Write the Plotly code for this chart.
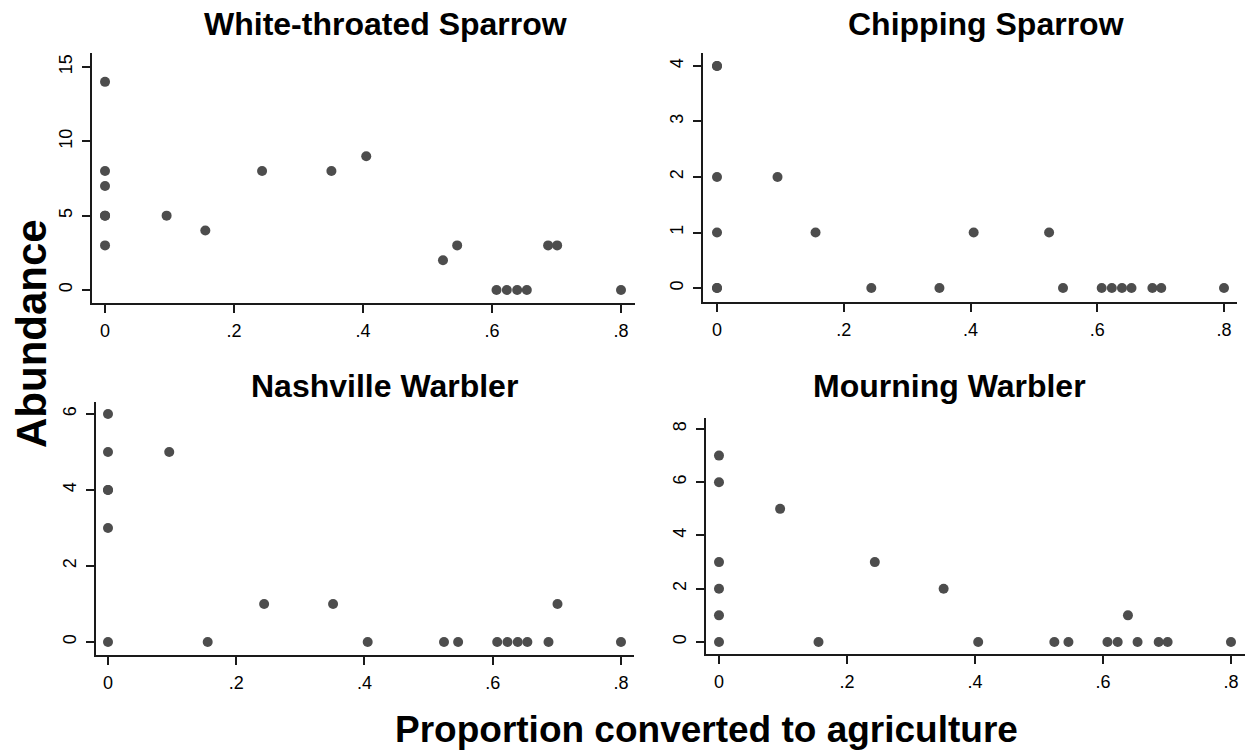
import plotly.graph_objects as go

# ---- data ----
proportion = [0, 0, 0, 0, 0, 0, 0.0955, 0.1555, 0.2435, 0.351, 0.405, 0.524,
              0.546, 0.607, 0.623, 0.639, 0.654, 0.687, 0.701, 0.8]
white_throated = [14, 8, 7, 5, 5, 3, 5, 4, 8, 8, 9, 2, 3, 0, 0, 0, 0, 3, 3, 0]
chipping = [4, 4, 2, 1, 0, 0, 2, 1, 0, 0, 1, 1, 0, 0, 0, 0, 0, 0, 0, 0]
nashville = [6, 5, 4, 4, 3, 0, 5, 0, 1, 1, 0, 0, 0, 0, 0, 0, 0, 0, 1, 0]
mourning = [7, 6, 3, 2, 1, 0, 5, 0, 3, 2, 0, 0, 0, 0, 0, 1, 0, 0, 0, 0]

species = ["White-throated Sparrow", "Chipping Sparrow", "Nashville Warbler", "Mourning Warbler"]
series = [white_throated, chipping, nashville, mourning]
x_ticks = [0, 0.2, 0.4, 0.6, 0.8]
x_tick_text = ["0", ".2", ".4", ".6", ".8"]
y_ticks = [[0, 5, 10, 15], [0, 1, 2, 3, 4], [0, 2, 4, 6], [0, 2, 4, 6, 8]]

W, H = 1249, 755

# panel geometry in pixels: (x_left, x_right, y_top, y_bottom)
boxes = [(92, 635, 53, 303), (703, 1237, 53, 302), (96, 634, 402, 655), (706, 1245, 418, 654)]
# axis ranges
x_ranges = [[-0.0202, 0.8217], [-0.0221, 0.8205], [-0.0187, 0.8203], [-0.0203, 0.8219]]
y_ranges = [[-0.874, 15.94], [-0.251, 4.233], [-0.342, 6.316], [-0.451, 8.413]]
title_pos = [(385, 24), (986, 24), (384, 386), (950, 386)]

FONT = "Liberation Sans, Arial, sans-serif"
fig = go.Figure()
layout = dict(width=W, height=H, margin=dict(l=0, r=0, t=0, b=0), autosize=False,
              paper_bgcolor="white", plot_bgcolor="white", showlegend=False,
              font=dict(family=FONT, color="black"))
annotations = []
for i, (name, vals) in enumerate(zip(species, series)):
    n = "" if i == 0 else str(i + 1)
    fig.add_trace(go.Scatter(x=proportion, y=vals, mode="markers",
                             marker=dict(size=10, color="#4d4d4d", line=dict(width=0)),
                             xaxis="x" + n, yaxis="y" + n, hoverinfo="x+y"))
    xl, xr, yt, yb = boxes[i]
    common = dict(showline=True, linecolor="#1a1a1a", linewidth=1.5, showgrid=False,
                  zeroline=False, ticks="outside", ticklen=8, tickwidth=1.5,
                  tickcolor="#1a1a1a", tickfont=dict(family=FONT, size=18, color="black"),
                  mirror=False)
    layout["xaxis" + n] = dict(domain=[xl / W, xr / W], anchor="y" + n,
                               range=x_ranges[i], tickvals=x_ticks, ticktext=x_tick_text,
                               ticklabelstandoff=3, **common)
    layout["yaxis" + n] = dict(domain=[1 - yb / H, 1 - yt / H], anchor="x" + n,
                               range=y_ranges[i], tickvals=y_ticks[i], tickangle=-90,
                               ticklabelstandoff=3, **common)
    cx, cy = title_pos[i]
    annotations.append(dict(text="<b>%s</b>" % name, x=cx / W, y=1 - cy / H, xref="paper",
                            yref="paper", xanchor="center", yanchor="middle",
                            showarrow=False, font=dict(family=FONT, size=32, color="black")))

annotations.append(dict(text="<b>Abundance</b>", x=31 / W, y=1 - 334 / H, xref="paper",
                        yref="paper", xanchor="center", yanchor="middle", textangle=-90,
                        showarrow=False, font=dict(family=FONT, size=42, color="black")))
annotations.append(dict(text="<b>Proportion converted to agriculture</b>", x=706 / W,
                        y=1 - 729 / H, xref="paper", yref="paper", xanchor="center",
                        yanchor="middle", showarrow=False,
                        font=dict(family=FONT, size=37, color="black")))
layout["annotations"] = annotations
fig.update_layout(**layout)
fig.write_html("out.html")
